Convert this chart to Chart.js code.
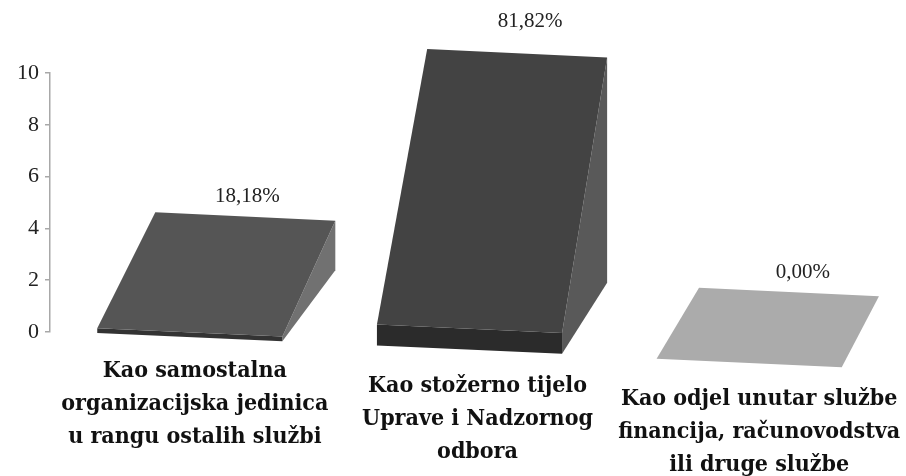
<!DOCTYPE html>
<html>
<head>
<meta charset="utf-8">
<style>html,body{margin:0;padding:0;background:#fff}#w{width:906px;height:476px}</style>
<script src="https://cdn.jsdelivr.net/npm/chart.js@4"></script>
</head>
<body>
<div id="w"><canvas id="c" width="906" height="476"></canvas></div>
<script>
const categories = [
  ["Kao samostalna", "organizacijska jedinica", "u rangu ostalih službi"],
  ["Kao stožerno tijelo", "Uprave i Nadzornog", "odbora"],
  ["Kao odjel unutar službe", "financija, računovodstva", "ili druge službe"]
];
const values = [2, 9, 0];
const percentLabels = ["18,18%", "81,82%", "0,00%"];
const yTicks = [0, 2, 4, 6, 8, 10];

const topColors = ["#555555", "#434343", "#ababab"];
const sideColors = ["#717171", "#595959", "#ababab"];
const frontColors = ["#333333", "#2b2b2b", "#ababab"];

// projection of the floor and depth of the 3D view
const floorTilt = 0.045, depthY = 71, depthXAtAxis = 59.4, depthXFade = 0.028;
const backRise = 0.97, frontRise = 0.09;
const percentNudge = [[2, 1], [13, -11], [14, 2]];
const tickNudge = [[5, 0], [8, 15], [10, 28]];
const serif = "'Liberation Serif', serif";
const serifBold = "'DejaVu Serif Condensed', 'DejaVu Serif', serif";

Chart.BarElement.prototype.draw = function (ctx) {
  const i = this.$context.dataIndex;
  const area = this.$context.chart.chartArea;
  const H = this.base - this.y;
  const x1 = this.x - this.width / 2, x2 = this.x + this.width / 2;
  const floor = x => this.base - 0.5 + floorTilt * (x - area.left);
  const dx = x => depthXAtAxis - depthXFade * (x - area.left);
  const poly = (pts, color) => {
    ctx.beginPath();
    pts.forEach((p, n) => n ? ctx.lineTo(p[0], p[1]) : ctx.moveTo(p[0], p[1]));
    ctx.closePath();
    ctx.fillStyle = color;
    ctx.fill();
  };
  const FBL = [x1, floor(x1)], FBR = [x2, floor(x2)];
  const FTL = [x1, floor(x1) - H * frontRise], FTR = [x2, floor(x2) - H * frontRise];
  const BBR = [x2 + dx(x2), floor(x2) - depthY];
  const BTR = [x2 + dx(x2), floor(x2) - depthY - H * backRise];
  const BTL = [x1 + dx(x1), floor(x1) - depthY - H * backRise];
  ctx.save();
  if (H > 0) {
    poly([FBR, BBR, BTR, FTR], sideColors[i]);
    poly([FBL, FBR, FTR, FTL], frontColors[i]);
  }
  poly([FTL, FTR, BTR, BTL], topColors[i]);
  ctx.restore();
  this.$backTop = [(BTL[0] + BTR[0]) / 2, (BTL[1] + BTR[1]) / 2];
};

const wedgeLabels = {
  id: "wedgeLabels",
  beforeDraw(chart) {
    chart.scales.x.getLabelItems().forEach((item, i) => {
      if (item.$moved) return;
      item.$moved = true;
      item.options.translation[0] += tickNudge[i][0];
      item.options.translation[1] += tickNudge[i][1];
    });
  },
  afterDatasetsDraw(chart) {
    const ctx = chart.ctx;
    ctx.save();
    ctx.font = "21px " + serif;
    ctx.fillStyle = "#222222";
    ctx.textAlign = "center";
    ctx.textBaseline = "middle";
    chart.getDatasetMeta(0).data.forEach((bar, i) => {
      ctx.fillText(percentLabels[i], bar.$backTop[0] + percentNudge[i][0], bar.$backTop[1] - 21 + percentNudge[i][1]);
    });
    ctx.restore();
  }
};

new Chart(document.getElementById("c"), {
  type: "bar",
  data: {
    labels: categories,
    datasets: [{ data: values, backgroundColor: topColors, categoryPercentage: 1, barPercentage: 0.662, clip: false }]
  },
  options: {
    responsive: false,
    animation: false,
    events: [],
    layout: { padding: { top: 73, right: 17, left: 0, bottom: 0 } },
    plugins: { legend: { display: false }, tooltip: { enabled: false }, title: { display: false } },
    scales: {
      y: {
        min: 0, max: 10,
        afterBuildTicks(s) { s.ticks = yTicks.map(v => ({ value: v })); },
        afterFit(s) { s.width = 50; },
        grid: { drawOnChartArea: false, drawTicks: true, tickLength: 5, color: "#a8a8a8", lineWidth: 1.5 },
        border: { color: "#a8a8a8", width: 1.5 },
        ticks: { padding: 6, color: "#222222", font: { family: serif, size: 22 } }
      },
      x: {
        afterFit(s) { s.height = 144; s.paddingLeft = 0; s.paddingRight = 0; },
        grid: { display: false, drawTicks: false },
        border: { display: false },
        ticks: {
          autoSkip: false, maxRotation: 0, minRotation: 0, padding: 22, color: "#111111",
          font: { family: serifBold, size: 23, weight: "bold", lineHeight: 1.45 }
        }
      }
    }
  },
  plugins: [wedgeLabels]
});
</script>
</body>
</html>
